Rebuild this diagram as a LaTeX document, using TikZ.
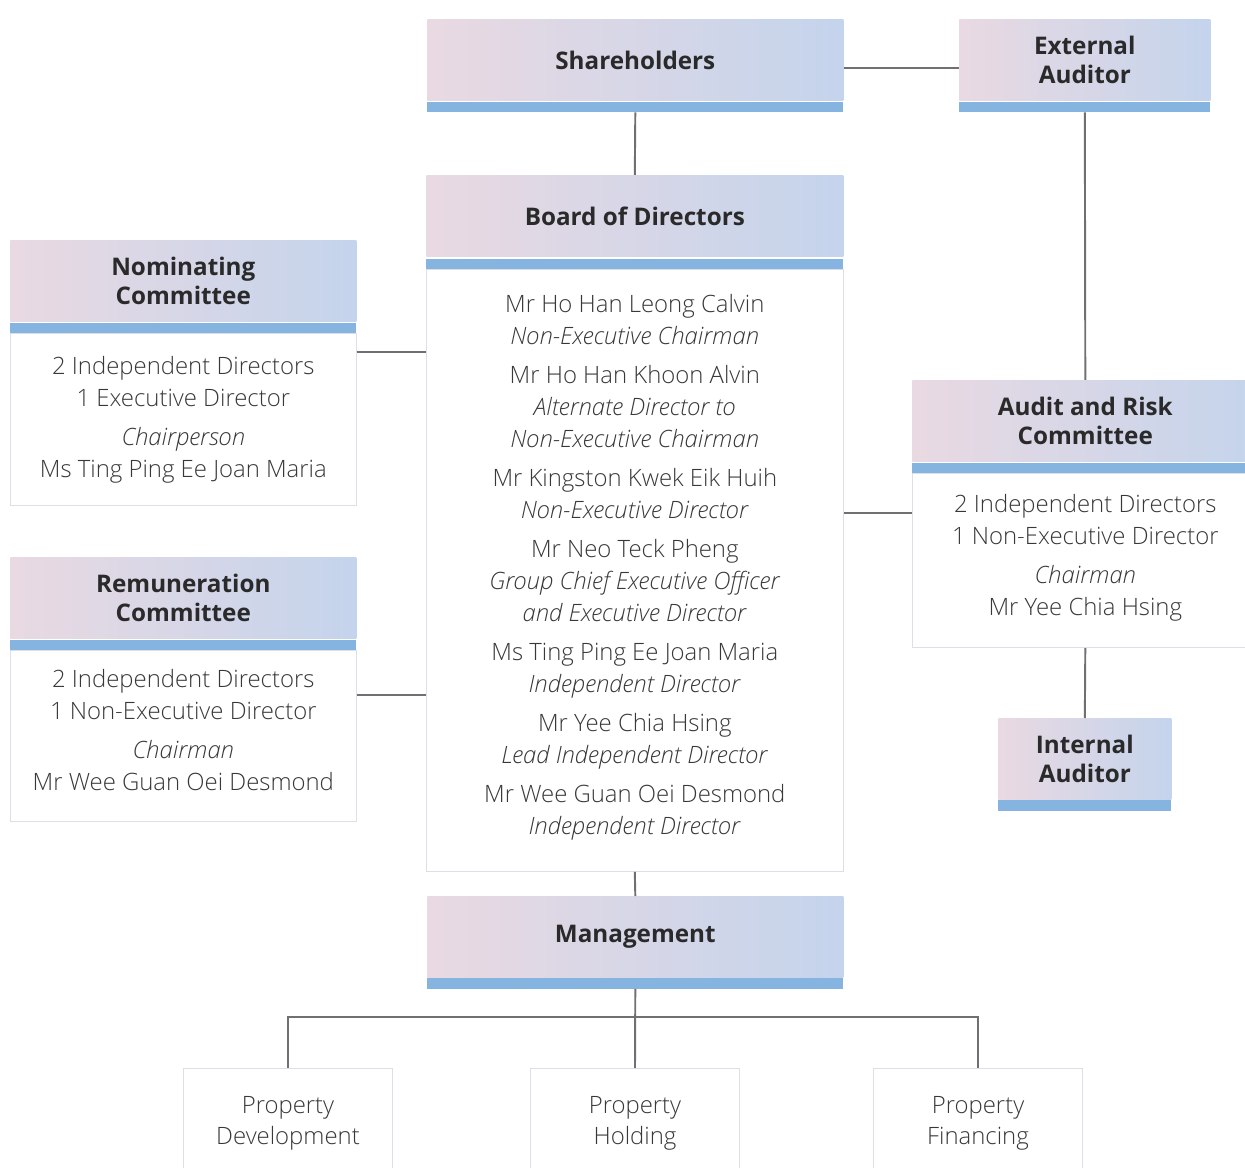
\documentclass[tikz,border=0pt]{standalone}
\usepackage{fontspec}
\setmainfont{Open Sans}
\newfontfamily\lightfont{Open Sans Light}
\usetikzlibrary{positioning}

\definecolor{headL}{HTML}{E9D9E2}
\definecolor{headR}{HTML}{C4D4EC}
\definecolor{barblue}{HTML}{85B4E0}
\definecolor{headtxt}{HTML}{2A2A2A}
\definecolor{bodytxt}{HTML}{383838}
\definecolor{boxline}{HTML}{DCDFE6}
\definecolor{linkgray}{HTML}{707070}

\tikzset{
	head/.style={left color=headL, right color=headR, draw=none, inner sep=0pt,
		minimum height=1.63cm, align=center, text=headtxt,
		font={\fontsize{13.8}{16.6}\selectfont\bfseries}},
	bar/.style={fill=barblue, draw=none, inner sep=0pt, minimum height=0.21cm},
	body/.style={draw=boxline, fill=white, inner sep=0pt, align=center, text=bodytxt,
		font={\lightfont\fontsize{13.6}{18.2}\selectfont}},
	unit/.style={draw=boxline, fill=white, inner sep=0pt, align=center, text=bodytxt,
		minimum width=4.18cm, minimum height=2.2cm, anchor=north,
		font={\lightfont\fontsize{13.6}{18.2}\selectfont}},
	link/.style={draw=linkgray, line width=1.1pt},
}

\begin{document}
\begin{tikzpicture}[x=0.02cm, y=-0.02cm]
	\useasboundingbox (0,0) rectangle (1245,1168);

	% top row
	\node[head, minimum width=8.32cm, anchor=north west] (shareHead) at (427,19) {Shareholders};
	\node[bar, minimum width=8.32cm, below=0pt of shareHead] (shareBar) {};

	\node[head, minimum width=5.02cm, anchor=north west] (extHead) at (959,19) {External\\Auditor};
	\node[bar, minimum width=5.02cm, below=0pt of extHead] (extBar) {};

	% board
	\node[head, minimum width=8.34cm, anchor=north west] (boardHead) at (426,175) {Board of Directors};
	\node[bar, minimum width=8.34cm, below=0.02cm of boardHead] (boardBar) {};
	\node[body, minimum width=8.34cm, minimum height=12.04cm, below=0pt of boardBar] (boardBody) {
		Mr Ho Han Leong Calvin\\ \textit{Non-Executive Chairman}\\[4pt]
		Mr Ho Han Khoon Alvin\\ \textit{Alternate Director to}\\ \textit{Non-Executive Chairman}\\[4pt]
		Mr Kingston Kwek Eik Huih\\ \textit{Non-Executive Director}\\[4pt]
		Mr Neo Teck Pheng\\ \textit{Group Chief Executive Officer}\\ \textit{and Executive Director}\\[4pt]
		Ms Ting Ping Ee Joan Maria\\ \textit{Independent Director}\\[4pt]
		Mr Yee Chia Hsing\\ \textit{Lead Independent Director}\\[4pt]
		Mr Wee Guan Oei Desmond\\ \textit{Independent Director}\\[-11.4pt]};

	% committees, left
	\node[head, minimum width=6.92cm, anchor=north west] (nomHead) at (10,240) {Nominating\\Committee};
	\node[bar, minimum width=6.92cm, below=0pt of nomHead] (nomBar) {};
	\node[body, minimum width=6.92cm, minimum height=3.44cm, below=0pt of nomBar] (nomBody) {
		2 Independent Directors\\ 1 Executive Director\\[4pt]
		\textit{Chairperson}\\ Ms Ting Ping Ee Joan Maria\\[-14.8pt]};

	\node[head, minimum width=6.92cm, anchor=north west] (remHead) at (10,557) {Remuneration\\Committee};
	\node[bar, minimum width=6.92cm, below=0pt of remHead] (remBar) {};
	\node[body, minimum width=6.92cm, minimum height=3.42cm, below=0pt of remBar] (remBody) {
		2 Independent Directors\\ 1 Non-Executive Director\\[4pt]
		\textit{Chairman}\\ Mr Wee Guan Oei Desmond\\[-11.4pt]};

	% committees, right
	\node[head, minimum width=6.92cm, anchor=north west] (audHead) at (912,380) {Audit and Risk\\Committee};
	\node[bar, minimum width=6.92cm, below=0pt of audHead] (audBar) {};
	\node[body, minimum width=6.92cm, minimum height=3.48cm, below=0pt of audBar] (audBody) {
		2 Independent Directors\\ 1 Non-Executive Director\\[4pt]
		\textit{Chairman}\\ Mr Yee Chia Hsing\\[-11.4pt]};

	\node[head, minimum width=3.46cm, minimum height=1.62cm, anchor=north west] (intHead) at (998,718) {Internal\\Auditor};
	\node[bar, minimum width=3.46cm, below=0pt of intHead] (intBar) {};

	% management and units
	\node[head, minimum width=8.32cm, minimum height=1.62cm, anchor=north west] (mgmtHead) at (427,896) {Management};
	\node[bar, minimum width=8.32cm, below=0pt of mgmtHead] (mgmtBar) {};

	\node[unit] (propDev) at (288,1068) {Property\\Development};
	\node[unit] (propHold) at (635,1068) {Property\\Holding};
	\node[unit] (propFin) at (978,1068) {Property\\Financing};
	\coordinate (fork) at (635,1017);

	% connectors
	\draw[link] (shareBar.south) -- (boardHead.north);
	\draw[link] (shareHead.east |- 0,68) -- (extHead.west |- 0,68);
	\draw[link] (extBar.south) -- (audHead.north);
	\draw[link] (nomBody.east |- 0,352) -- (boardBody.west |- 0,352);
	\draw[link] (remBody.east |- 0,695) -- (boardBody.west |- 0,695);
	\draw[link] (boardBody.east |- 0,513) -- (audBody.west |- 0,513);
	\draw[link] (audBody.south) -- (intHead.north);
	\draw[link] (boardBody.south) -- (mgmtHead.north);
	\draw[link] (mgmtBar.south) -- (propHold.north);
	\draw[link] (propDev.north) |- (fork) -| (propFin.north);
\end{tikzpicture}
\end{document}
